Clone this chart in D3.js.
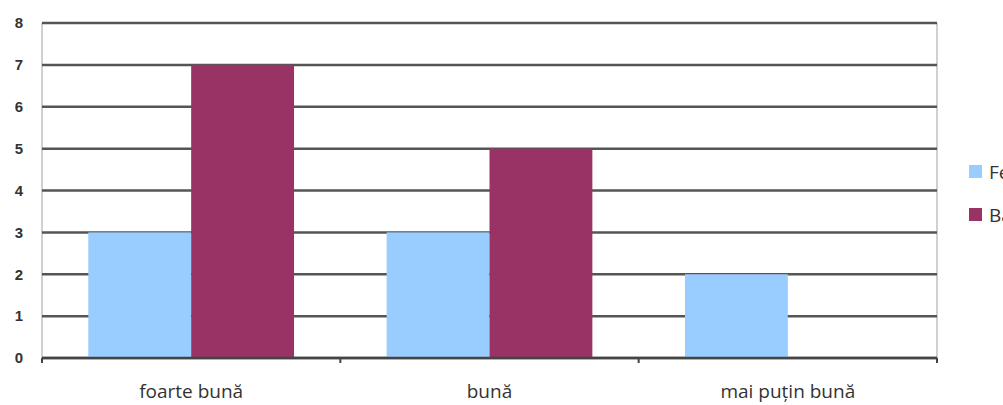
<!DOCTYPE html>
<html>
<head>
<meta charset="utf-8">
<script src="https://cdn.jsdelivr.net/npm/d3@7"></script>
<style>
  body { margin: 0; background: #fff; }
  svg { display: block; }
</style>
</head>
<body>
<svg id="chart"></svg>
<script>
var categories = ["foarte bună", "bună", "mai puțin bună"];
var seriesNames = ["Fete", "Băieți"];
var fete = [3, 3, 2];
var baieti = [7, 5, 0];
var yTicks = [0, 1, 2, 3, 4, 5, 6, 7, 8];
var colors = ["#99ccff", "#993366"];

var W = 1003, H = 405;
var margin = { top: 23, left: 42, bottom: 47, right: 66 };
var width = W - margin.left - margin.right;
var height = H - margin.top - margin.bottom;

var svg = d3.select('#chart')
  .attr('width', W)
  .attr('height', H);
var g = svg.append('g')
  .attr('transform', 'translate(' + margin.left + ',' + margin.top + ')');

var x = d3.scaleBand()
  .domain(categories)
  .range([0, width])
  .paddingInner(0)
  .paddingOuter(0);
var x1 = d3.scaleBand()
  .domain(seriesNames)
  .range([0, x.bandwidth()])
  .paddingOuter(0.45)
  .paddingInner(0);
var y = d3.scaleLinear()
  .domain([0, 8])
  .range([height, 0]);

// light frame lines left and right
g.append('line')
  .attr('x1', 0).attr('x2', 0).attr('y1', 0).attr('y2', height)
  .attr('stroke', '#d0d0d0').attr('stroke-width', 2);
g.append('line')
  .attr('x1', width).attr('x2', width).attr('y1', 0).attr('y2', height)
  .attr('stroke', '#d0d0d0').attr('stroke-width', 2);

// gridlines
g.selectAll('.grid')
  .data(yTicks)
  .enter()
  .append('line')
  .attr('x1', 0)
  .attr('x2', width)
  .attr('y1', function (d) { return y(d); })
  .attr('y2', function (d) { return y(d); })
  .attr('stroke', '#555')
  .attr('stroke-width', 2.5);

// bars
var data = categories.map(function (c, i) {
  return { cat: c, values: [fete[i], baieti[i]] };
});
var groups = g.selectAll('.grp')
  .data(data)
  .enter()
  .append('g')
  .attr('transform', function (d) { return 'translate(' + x(d.cat) + ',0)'; });
groups.selectAll('rect')
  .data(function (d) { return d.values.map(function (v, j) { return { s: seriesNames[j], v: v, j: j }; }); })
  .enter()
  .append('rect')
  .attr('x', function (d) { return x1(d.s); })
  .attr('width', x1.bandwidth())
  .attr('y', function (d) { return y(d.v); })
  .attr('height', function (d) { return height - y(d.v); })
  .attr('fill', function (d) { return colors[d.j]; });

// x axis
var xAxis = g.append('g')
  .attr('transform', 'translate(0,' + height + ')');
xAxis.append('line')
  .attr('x1', 0).attr('x2', width)
  .attr('stroke', '#444').attr('stroke-width', 2.5);
xAxis.selectAll('.tk')
  .data(d3.range(categories.length + 1))
  .enter()
  .append('line')
  .attr('x1', function (d) { return d * x.bandwidth(); })
  .attr('x2', function (d) { return d * x.bandwidth(); })
  .attr('y1', 0).attr('y2', 5)
  .attr('stroke', '#444').attr('stroke-width', 2);
xAxis.selectAll('.lbl')
  .data(categories)
  .enter()
  .append('text')
  .attr('x', function (d) { return x(d) + x.bandwidth() / 2; })
  .attr('y', 40)
  .attr('text-anchor', 'middle')
  .attr('font-family', 'Open Sans, sans-serif')
  .attr('font-size', '19px')
  .attr('fill', '#333')
  .text(function (d) { return d; });

// y labels
g.selectAll('.ylbl')
  .data(yTicks)
  .enter()
  .append('text')
  .attr('x', -19)
  .attr('y', function (d) { return y(d); })
  .attr('dy', '0.35em')
  .attr('text-anchor', 'end')
  .attr('font-family', 'Liberation Sans, sans-serif')
  .attr('font-weight', 'bold')
  .attr('font-size', '15px')
  .attr('fill', '#333')
  .text(function (d) { return d; });

// legend
var legend = svg.append('g')
  .attr('transform', 'translate(969,165)');
var li = legend.selectAll('g')
  .data(seriesNames)
  .enter()
  .append('g')
  .attr('transform', function (d, i) { return 'translate(0,' + i * 43 + ')'; });
li.append('rect')
  .attr('width', 13).attr('height', 13)
  .attr('fill', function (d, i) { return colors[i]; });
li.append('text')
  .attr('x', 20)
  .attr('y', 7)
  .attr('dy', '0.35em')
  .attr('font-family', 'Open Sans, sans-serif')
  .attr('font-size', '19px')
  .attr('fill', '#333')
  .text(function (d) { return d; });
</script>
</body>
</html>
